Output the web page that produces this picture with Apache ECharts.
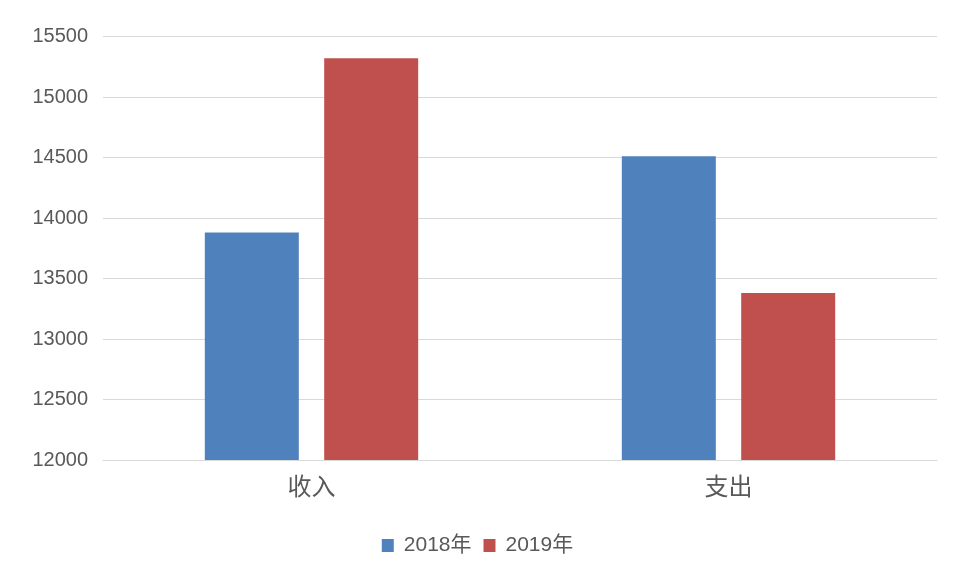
<!DOCTYPE html>
<html>
<head>
<meta charset="utf-8">
<script src="https://cdn.jsdelivr.net/npm/echarts@6/dist/echarts.min.js"></script>
<style>
html,body{margin:0;padding:0;background:#fff;}
#chart{width:955px;height:581px;}
</style>
</head>
<body>
<div id="chart"></div>
<script>
var categories = ['收入', '支出'];
var seriesNames = ['2018年', '2019年'];
var values2018 = [13880, 14510];
var values2019 = [15320, 13380];
var yTicks = {min: 12000, max: 15500, interval: 500};

var FONT = "'Liberation Sans', 'Noto Sans CJK SC', sans-serif";
var chart = echarts.init(document.getElementById('chart'), null, {renderer: 'canvas'});
chart.setOption({
  animation: false,
  backgroundColor: '#ffffff',
  grid: {left: 103, right: 18, top: 36.5, bottom: 121, containLabel: false},
  legend: {
    bottom: 20,
    left: 'center',
    icon: 'rect',
    itemWidth: 12,
    itemHeight: 13,
    itemGap: 12,
    textStyle: {fontSize: 21, color: '#595959', fontFamily: FONT, padding: [0, 0, 0, 5]},
    data: seriesNames
  },
  xAxis: {
    type: 'category',
    data: categories,
    axisLine: {show: true, lineStyle: {color: '#D9D9D9', width: 1}},
    axisTick: {show: false},
    axisLabel: {fontSize: 24, color: '#595959', margin: 16, fontFamily: FONT}
  },
  yAxis: {
    type: 'value',
    min: yTicks.min,
    max: yTicks.max,
    interval: yTicks.interval,
    axisLine: {show: false},
    axisTick: {show: false},
    splitLine: {lineStyle: {color: '#D9D9D9', width: 1}},
    axisLabel: {fontSize: 20, color: '#595959', margin: 15, fontFamily: FONT,
      formatter: function (v) { return String(v); }}
  },
  series: [
    {
      name: seriesNames[0],
      type: 'bar',
      data: values2018,
      barWidth: 94,
      barGap: '27%',
      itemStyle: {color: '#4F81BD'}
    },
    {
      name: seriesNames[1],
      type: 'bar',
      data: values2019,
      barWidth: 94,
      barGap: '27%',
      itemStyle: {color: '#C0504D'}
    }
  ]
});
</script>
</body>
</html>
